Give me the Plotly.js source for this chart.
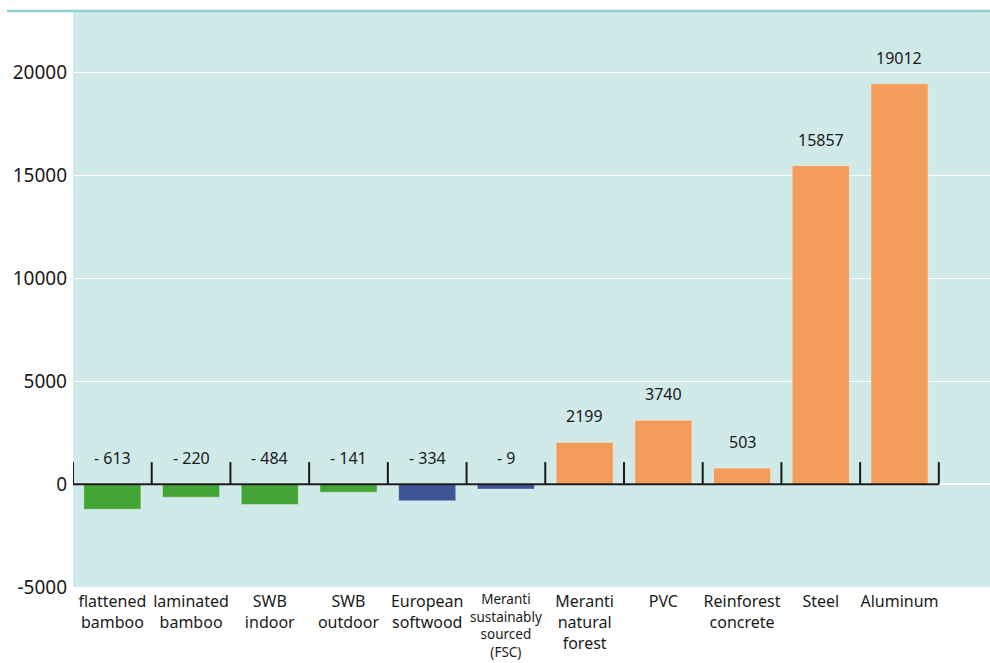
<!DOCTYPE html>
<html>
<head>
<meta charset="utf-8">
<script src="https://cdn.plot.ly/plotly-3.0.1.min.js"></script>
<style>html,body{margin:0;padding:0;background:#fff;}#chart{width:990px;height:663px;}</style>
</head>
<body>
<div id="chart"></div>
<script>
// ---- data ----
const categories = [
  "flattened<br>bamboo",
  "laminated<br>bamboo",
  "SWB<br>indoor",
  "SWB<br>outdoor",
  "European<br>softwood",
  "Meranti<br>sustainably<br>sourced<br>(FSC)",
  "Meranti<br>natural<br>forest",
  "PVC",
  "Reinforest<br>concrete",
  "Steel",
  "Aluminum"
];
const barValues = [-1220, -633, -990, -390, -810, -240, 2030, 3100, 780, 15480, 19460];
const valueLabels = ["- 613", "- 220", "- 484", "- 141", "- 334", "- 9", "2199", "3740", "503", "15857", "19012"];
const groups = ["bamboo", "bamboo", "bamboo", "bamboo", "wood", "wood", "other", "other", "other", "other", "other"];
const smallLabel = [false, false, false, false, false, true, false, false, false, false, false];
const yTickVals = [-5000, 0, 5000, 10000, 15000, 20000];

// ---- styles ----
const groupColors = {bamboo: "#43a535", wood: "#3e5597", other: "#f49d5b"};
const fontFam = "Noto Sans, Open Sans, DejaVu Sans, sans-serif";
const idx = categories.map((_, i) => i);

const trace = {
  type: "bar",
  x: idx,
  y: barValues,
  width: 0.725,
  marker: {
    color: groups.map(g => groupColors[g]),
    line: {color: "rgba(255,255,255,0.35)", width: 1}
  },
  hoverinfo: "skip"
};

const annotations = valueLabels.map((t, i) => ({
  x: i, y: Math.max(0, barValues[i]),
  xref: "x", yref: "y",
  text: t, showarrow: false,
  yanchor: "bottom", yshift: 13,
  font: {family: fontFam, size: 16, color: "#1a1a1a"}
}));
// small-font category labels drawn as annotations (tighter line spacing)
categories.forEach((c, i) => {
  if (smallLabel[i]) {
    annotations.push({
      x: i, y: 0, xref: "x", yref: "paper",
      text: c, showarrow: false, yanchor: "top", yshift: -1,
      font: {family: fontFam, size: 13.5, color: "#1a1a1a"}
    });
  }
});

const shapes = [
  {type: "line", xref: "x", yref: "y", x0: -0.5, x1: categories.length - 0.5, y0: 0, y1: 0,
   line: {color: "#1a1a1a", width: 2}, layer: "above"},
  {type: "line", xref: "paper", yref: "paper", x0: -0.072, x1: 1, y0: 1, y1: 1,
   line: {color: "#8fd1d1", width: 2.5}, layer: "above"}
];
for (let i = 0; i <= categories.length; i++) {
  shapes.push({type: "line", xref: "x", yref: "y", ysizemode: "pixel", yanchor: 0,
    x0: i - 0.5, x1: i - 0.5, y0: 0, y1: 22,
    line: {color: "#1a1a1a", width: 2}, layer: "above"});
}

const layout = {
  width: 990, height: 663,
  margin: {l: 73, r: 0, t: 11, b: 76, pad: 0},
  paper_bgcolor: "#ffffff",
  plot_bgcolor: "#d0e9e9",
  showlegend: false,
  xaxis: {
    type: "linear",
    range: [-0.5, 11.15],
    tickmode: "array", tickvals: idx,
    ticktext: categories.map((c, i) => smallLabel[i] ? "" : c),
    ticks: "", showgrid: false, zeroline: false, showline: false,
    ticklabelstandoff: 3,
    tickfont: {family: fontFam, size: 16, color: "#1a1a1a"},
    fixedrange: true
  },
  yaxis: {
    range: [-5000, 23000],
    tickmode: "array", tickvals: yTickVals, ticktext: yTickVals.map(String),
    ticks: "", showgrid: true, gridcolor: "#ffffff", gridwidth: 1.5,
    zeroline: false, showline: false,
    ticklabelstandoff: 5,
    tickfont: {family: fontFam, size: 19, color: "#1a1a1a"},
    fixedrange: true
  },
  annotations: annotations,
  shapes: shapes
};

Plotly.newPlot("chart", [trace], layout, {displayModeBar: false, staticPlot: true});
</script>
</body>
</html>
